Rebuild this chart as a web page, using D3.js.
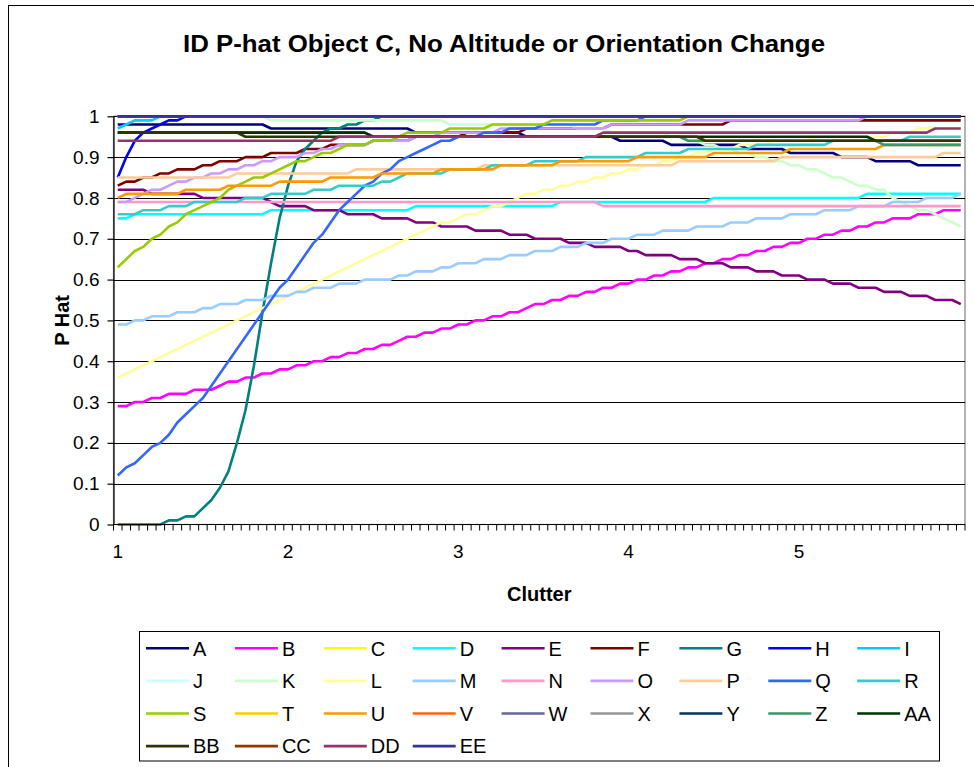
<!DOCTYPE html>
<html><head><meta charset="utf-8">
<script src="https://cdn.jsdelivr.net/npm/d3@7"></script>
<style>body{margin:0;background:#fff}svg{display:block}text{font-family:"Liberation Sans",Arial,sans-serif;fill:#000}</style>
</head><body><svg id="c" width="974" height="767"></svg>
<script>
const categories = [
1,1.05,1.1,1.15,1.2,1.25,1.3,1.35,1.4,1.45,
1.5,1.55,1.6,1.65,1.7,1.75,1.8,1.85,1.9,1.95,
2,2.05,2.1,2.15,2.2,2.25,2.3,2.35,2.4,2.45,
2.5,2.55,2.6,2.65,2.7,2.75,2.8,2.85,2.9,2.95,
3,3.05,3.1,3.15,3.2,3.25,3.3,3.35,3.4,3.45,
3.5,3.55,3.6,3.65,3.7,3.75,3.8,3.85,3.9,3.95,
4,4.05,4.1,4.15,4.2,4.25,4.3,4.35,4.4,4.45,
4.5,4.55,4.6,4.65,4.7,4.75,4.8,4.85,4.9,4.95,
5,5.05,5.1,5.15,5.2,5.25,5.3,5.35,5.4,5.45,
5.5,5.55,5.6,5.65,5.7,5.75,5.8,5.85,5.9,5.95];
const xTickValues = [1,2,3,4,5];
const xTickLabels = ["1","2","3","4","5"];
const yTickValues = [0,0.1,0.2,0.3,0.4,0.5,0.6,0.7,0.8,0.9,1];
const yTickLabels = ["0","0.1","0.2","0.3","0.4","0.5","0.6","0.7","0.8","0.9","1"];

const seriesNames = ["A","B","C","D","E","F","G","H","I","J","K","L","M","N","O","P","Q","R","S","T","U","V","W","X","Y","Z","AA","BB","CC","DD","EE"];
const seriesColors = ["#000080","#FF00FF","#FFFF00","#00FFFF","#800080","#800000","#008080","#0000FF","#00CCFF","#CCFFFF","#CCFFCC","#FFFF99","#99CCFF","#FF99CC","#CC99FF","#FFCC99","#3366FF","#33CCCC","#99CC00","#FFCC00","#FF9900","#FF6600","#666699","#969696","#003366","#339966","#003300","#333300","#993300","#993366","#333399"];

const sA = [
.98,.98,.98,.98,.98,.98,.98,.98,.98,.98,
.98,.98,.98,.98,.98,.98,.98,.98,.97,.97,
.97,.97,.97,.97,.97,.97,.97,.97,.97,.97,
.97,.97,.97,.97,.97,.96,.96,.96,.96,.96,
.96,.96,.96,.96,.96,.96,.96,.96,.95,.95,
.95,.95,.95,.95,.95,.95,.95,.95,.95,.94,
.94,.94,.94,.94,.94,.93,.93,.93,.93,.93,
.93,.93,.93,.93,.92,.92,.92,.92,.92,.91,
.91,.91,.91,.91,.91,.90,.90,.90,.90,.89,
.89,.89,.89,.89,.88,.88,.88,.88,.88,.88];
const sB = [
.29,.29,.30,.30,.31,.31,.32,.32,.32,.33,
.33,.33,.34,.35,.35,.36,.36,.37,.37,.38,
.38,.39,.39,.40,.40,.41,.41,.42,.42,.43,
.43,.44,.44,.45,.46,.46,.47,.47,.48,.48,
.49,.49,.50,.50,.51,.51,.52,.52,.53,.54,
.54,.55,.55,.56,.56,.57,.57,.58,.58,.59,
.59,.60,.60,.61,.61,.62,.62,.63,.63,.64,
.64,.65,.65,.66,.66,.67,.67,.68,.68,.69,
.69,.70,.70,.71,.71,.72,.72,.73,.73,.74,
.74,.75,.75,.75,.76,.76,.76,.77,.77,.77];
const sC = [
1,1,1,1,1,1,1,1,1,1, 1,1,1,1,1,1,1,1,1,1, 1,1,1,1,1,1,1,1,1,1, 1,1,1,1,1,1,1,1,1,1, 1,1,1,1,1,1,1,1,1,1,
1,1,1,1,1,1,1,1,1,1, 1,1,1,1,1,1,1,1,1,1, 1,1,1,1,1,1,1,1,1,1, 1,1,1,1,1,1,1,1,1,1, 1,1,1,1,1,1,1,1,1,1];
const sD = [
.75,.75,.76,.76,.76,.76,.76,.76,.76,.76,
.76,.76,.76,.76,.76,.76,.76,.76,.77,.77,
.77,.77,.77,.77,.77,.77,.77,.77,.77,.77,
.77,.77,.77,.77,.77,.78,.78,.78,.78,.78,
.78,.78,.78,.78,.78,.78,.78,.78,.78,.78,
.78,.78,.79,.79,.79,.79,.79,.79,.79,.79,
.79,.79,.79,.79,.79,.79,.79,.79,.79,.79,
.80,.80,.80,.80,.80,.80,.80,.80,.80,.80,
.80,.80,.80,.80,.80,.80,.80,.80,.81,.81,
.81,.81,.81,.81,.81,.81,.81,.81,.81,.81];
const sE = [
.82,.82,.82,.82,.81,.81,.81,.81,.81,.81,
.80,.80,.80,.80,.80,.80,.80,.80,.79,.78,
.78,.78,.78,.77,.77,.77,.77,.76,.76,.76,
.76,.75,.75,.75,.75,.74,.74,.74,.73,.73,
.73,.73,.72,.72,.72,.72,.71,.71,.71,.70,
.70,.70,.70,.69,.69,.69,.68,.68,.68,.68,
.67,.67,.66,.66,.66,.66,.65,.65,.65,.64,
.64,.64,.63,.63,.63,.62,.62,.62,.61,.61,
.61,.60,.60,.60,.59,.59,.59,.58,.58,.58,
.57,.57,.57,.56,.56,.56,.55,.55,.55,.54];
const sF = [
.83,.84,.84,.85,.85,.86,.86,.87,.87,.87,
.88,.88,.89,.89,.89,.90,.90,.90,.91,.91,
.91,.91,.92,.92,.92,.93,.93,.93,.93,.93,
.94,.94,.94,.94,.94,.95,.95,.95,.95,.95,
.95,.96,.96,.96,.96,.96,.96,.96,.97,.97,
.97,.97,.97,.97,.97,.97,.97,.97,.98,.98,
.98,.98,.98,.98,.98,.98,.98,.98,.98,.98,
.98,.98,.99,.99,.99,.99,.99,.99,.99,.99,
.99,.99,.99,.99,.99,.99,.99,.99,.99,.99,
.99,.99,.99,.99,.99,.99,.99,.99,.99,.99];
const sG = [
0,0,0,0,0,0,.01,.01,.02,.02,
.04,.06,.09,.13,.20,.28,.39,.52,.64,.75,
.83,.89,.92,.94,.96,.97,.97,.98,.98,.99,
.99,1,1,1,1,1,1,1,1,1,
1,1,1,1,1,1,1,1,1,1, 1,1,1,1,1,1,1,1,1,1, 1,1,1,1,1,1,1,1,1,1,
1,1,1,1,1,1,1,1,1,1, 1,1,1,1,1,1,1,1,1,1, 1,1,1,1,1,1,1,1,1,1];
const sH = [
.85,.90,.94,.96,.97,.98,.99,.99,1,1,
1,1,1,1,1,1,1,1,1,1, 1,1,1,1,1,1,1,1,1,1, 1,1,1,1,1,1,1,1,1,1, 1,1,1,1,1,1,1,1,1,1,
1,1,1,1,1,1,1,1,1,1, 1,1,1,1,1,1,1,1,1,1, 1,1,1,1,1,1,1,1,1,1, 1,1,1,1,1,1,1,1,1,1, 1,1,1,1,1,1,1,1,1,1];
const sI = [
.97,.98,.99,.99,.99,1,1,1,1,1,
1,1,1,1,1,1,1,1,1,1, 1,1,1,1,1,1,1,1,1,1, 1,1,1,1,1,1,1,1,1,1, 1,1,1,1,1,1,1,1,1,1,
1,1,1,1,1,1,1,1,1,1, 1,1,1,1,1,1,1,1,1,1, 1,1,1,1,1,1,1,1,1,1, 1,1,1,1,1,1,1,1,1,1, 1,1,1,1,1,1,1,1,1,1];
const sJ = [
1,1,1,1,1,1,1,1,1,1, 1,1,1,1,1,1,1,1,1,1, 1,1,1,1,1,1,1,1,1,1, 1,1,1,1,1,1,1,1,1,1, 1,1,1,1,1,1,1,1,1,1,
1,1,1,1,1,1,1,1,1,1, 1,1,1,1,1,1,1,1,1,1, 1,1,1,1,1,1,1,1,1,1, 1,1,1,1,1,1,1,1,1,1, 1,1,1,1,1,1,1,1,1,1];
const sK = [
1,1,1,1,1,1,1,1,1,1,
1,1,1,1,1,1,1,1,.99,.99,
.99,.99,.99,.99,.99,.99,.99,.99,.99,.99,
.99,.99,.99,.99,.99,.99,.99,.99,.99,.98,
.98,.98,.98,.98,.98,.98,.98,.98,.98,.98,
.98,.98,.98,.98,.97,.97,.97,.97,.96,.96,
.96,.96,.96,.96,.96,.95,.95,.94,.94,.93,
.93,.92,.92,.91,.91,.90,.90,.89,.89,.88,
.88,.87,.87,.86,.85,.85,.84,.83,.83,.82,
.82,.80,.79,.78,.77,.77,.76,.75,.74,.73];
const sL = [
.36,.37,.38,.39,.40,.41,.42,.43,.44,.45,
.46,.47,.48,.49,.50,.51,.52,.53,.54,.55,
.56,.57,.58,.59,.60,.61,.62,.63,.64,.65,
.66,.67,.68,.69,.70,.71,.72,.73,.74,.74,
.75,.76,.76,.77,.78,.78,.79,.80,.81,.81,
.82,.82,.83,.83,.84,.84,.85,.85,.86,.86,
.87,.87,.88,.88,.89,.89,.90,.90,.91,.91,
.92,.92,.92,.93,.93,.93,.93,.94,.94,.94,
.94,.94,.95,.95,.95,.95,.95,.95,.95,.95,
.95,.96,.96,.96,.97,.97,.97,.97,.97,.97];
const sM = [
.49,.49,.50,.50,.51,.51,.51,.52,.52,.52,
.53,.53,.54,.54,.54,.55,.55,.55,.56,.56,
.56,.57,.57,.58,.58,.58,.59,.59,.59,.60,
.60,.60,.60,.61,.61,.62,.62,.62,.63,.63,
.64,.64,.64,.65,.65,.65,.66,.66,.66,.67,
.67,.67,.68,.68,.68,.69,.69,.69,.70,.70,
.70,.71,.71,.71,.72,.72,.72,.72,.73,.73,
.73,.73,.74,.74,.74,.75,.75,.75,.75,.76,
.76,.76,.76,.77,.77,.77,.77,.78,.78,.78,
.78,.79,.79,.79,.79,.80,.80,.80,.80,.81];
const sN = [
.79,.79,.79,.79,.79,.79,.79,.79,.79,.79,
.79,.79,.79,.79,.79,.79,.79,.79,.79,.79,
.79,.79,.79,.79,.79,.79,.79,.79,.79,.79,
.79,.79,.79,.79,.79,.79,.79,.79,.79,.79,
.79,.79,.79,.79,.79,.79,.79,.79,.79,.79,
.79,.79,.79,.79,.79,.79,.79,.78,.78,.78,
.78,.78,.78,.78,.78,.78,.78,.78,.78,.78,
.78,.78,.78,.78,.78,.78,.78,.78,.78,.78,
.78,.78,.78,.78,.78,.78,.78,.78,.78,.78,
.78,.78,.78,.78,.78,.78,.78,.78,.78,.78];
const sO = [
.79,.79,.80,.81,.82,.82,.83,.84,.84,.85,
.85,.86,.86,.87,.87,.88,.88,.89,.89,.90,
.90,.90,.91,.91,.92,.92,.93,.93,.93,.93,
.94,.94,.94,.94,.94,.95,.95,.95,.96,.96,
.96,.96,.96,.96,.96,.97,.97,.97,.97,.97,
.97,.97,.97,.97,.97,.97,.97,.97,.98,.98,
.98,.98,.98,.98,.98,.98,.98,.99,.99,.99,
.99,.99,.99,.99,.99,.99,.99,.99,.99,.99,
.99,.99,.99,.99,.99,.99,.99,.99,1,1,
1,1,1,1,1,1,1,1,1,1];
const sP = [
.85,.85,.85,.85,.85,.85,.85,.85,.85,.85,
.85,.85,.85,.85,.86,.86,.86,.86,.86,.86,
.86,.86,.86,.86,.86,.86,.86,.86,.87,.87,
.87,.87,.87,.87,.87,.87,.87,.87,.87,.87,
.87,.87,.87,.88,.88,.88,.88,.88,.88,.88,
.88,.88,.88,.88,.88,.88,.88,.88,.88,.88,
.88,.88,.88,.88,.88,.88,.89,.89,.89,.89,
.89,.89,.89,.89,.89,.89,.89,.89,.90,.90,
.90,.90,.90,.90,.90,.90,.90,.90,.90,.90,
.90,.90,.90,.90,.90,.90,.90,.91,.91,.91];
const sQ = [
.12,.14,.15,.17,.19,.20,.22,.25,.27,.29,
.31,.34,.37,.40,.43,.46,.49,.52,.55,.58,
.60,.63,.66,.69,.71,.74,.77,.79,.81,.83,
.84,.86,.87,.89,.90,.91,.92,.93,.94,.94,
.95,.95,.95,.96,.96,.96,.97,.97,.97,.97,
.98,.98,.98,.98,.98,.98,.98,.99,.99,.99,
.99,.99,1,1,1,1,1,1,1,1,
1,1,1,1,1,1,1,1,1,1, 1,1,1,1,1,1,1,1,1,1, 1,1,1,1,1,1,1,1,1,1];
const sR = [
.76,.76,.76,.77,.77,.77,.78,.78,.78,.79,
.79,.79,.79,.79,.79,.80,.80,.80,.81,.81,
.81,.81,.81,.82,.82,.82,.83,.83,.83,.83,
.83,.84,.84,.85,.86,.86,.86,.86,.86,.87,
.87,.87,.87,.87,.88,.88,.88,.88,.88,.89,
.89,.89,.89,.89,.89,.90,.90,.90,.90,.90,
.90,.90,.91,.91,.91,.91,.91,.92,.92,.92,
.92,.92,.92,.92,.92,.93,.93,.93,.93,.93,
.93,.93,.93,.93,.94,.94,.94,.94,.94,.94,
.94,.94,.94,.95,.95,.95,.95,.95,.95,.95];
const sS = [
.63,.65,.67,.68,.70,.71,.73,.74,.76,.77,
.78,.79,.80,.82,.83,.84,.85,.85,.86,.87,
.88,.89,.89,.90,.91,.91,.92,.93,.93,.93,
.94,.94,.94,.95,.96,.96,.96,.96,.96,.97,
.97,.97,.97,.97,.98,.98,.98,.98,.98,.98,
.98,.99,.99,.99,.99,.99,.99,.99,.99,.99,
.99,.99,.99,.99,.99,.99,.99,1,1,1,
1,1,1,1,1,1,1,1,1,1, 1,1,1,1,1,1,1,1,1,1, 1,1,1,1,1,1,1,1,1,1];
const sT = [
1,1,1,1,1,1,1,1,1,1, 1,1,1,1,1,1,1,1,1,1, 1,1,1,1,1,1,1,1,1,1, 1,1,1,1,1,1,1,1,1,1, 1,1,1,1,1,1,1,1,1,1,
1,1,1,1,1,1,1,1,1,1, 1,1,1,1,1,1,1,1,1,1, 1,1,1,1,1,1,1,1,1,1, 1,1,1,1,1,1,1,1,1,1, 1,1,1,1,1,1,1,1,1,1];
const sU = [
.80,.81,.81,.81,.81,.81,.81,.81,.82,.82,
.82,.82,.82,.83,.83,.83,.83,.83,.83,.84,
.84,.84,.84,.84,.84,.85,.85,.85,.85,.85,
.85,.86,.86,.86,.86,.86,.86,.86,.87,.87,
.87,.87,.87,.87,.87,.88,.88,.88,.88,.88,
.88,.88,.89,.89,.89,.89,.89,.89,.89,.89,
.89,.90,.90,.90,.90,.90,.90,.90,.90,.90,
.91,.91,.91,.91,.91,.91,.91,.91,.91,.92,
.92,.92,.92,.92,.92,.92,.92,.92,.92,.92,
.93,.93,.93,.93,.93,.93,.93,.93,.93,.93];
const sV = [
1,1,1,1,1,1,1,1,1,1, 1,1,1,1,1,1,1,1,1,1, 1,1,1,1,1,1,1,1,1,1, 1,1,1,1,1,1,1,1,1,1, 1,1,1,1,1,1,1,1,1,1,
1,1,1,1,1,1,1,1,1,1, 1,1,1,1,1,1,1,1,1,1, 1,1,1,1,1,1,1,1,1,1, 1,1,1,1,1,1,1,1,1,1, 1,1,1,1,1,1,1,1,1,1];
const sW = [
1,1,1,1,1,1,1,1,1,1, 1,1,1,1,1,1,1,1,1,1, 1,1,1,1,1,1,1,1,1,1, 1,1,1,1,1,1,1,1,1,1, 1,1,1,1,1,1,1,1,1,1,
1,1,1,1,1,1,1,1,1,1, 1,1,1,1,1,1,1,1,1,1, 1,1,1,1,1,1,1,1,1,1, 1,1,1,1,1,1,1,1,1,1, 1,1,1,1,1,1,1,1,1,1];
const sX = [
1,1,1,1,1,1,1,1,1,1, 1,1,1,1,1,1,1,1,1,1, 1,1,1,1,1,1,1,1,1,1, 1,1,1,1,1,1,1,1,1,1, 1,1,1,1,1,1,1,1,1,1,
1,1,1,1,1,1,1,1,1,1, 1,1,1,1,1,1,1,1,1,1, 1,1,1,1,1,1,1,1,1,1, 1,1,1,1,1,1,1,1,1,1, 1,1,1,1,1,1,1,1,1,1];
const sY = [
1,1,1,1,1,1,1,1,1,1, 1,1,1,1,1,1,1,1,1,1, 1,1,1,1,1,1,1,1,1,1, 1,1,1,1,1,1,1,1,1,1, 1,1,1,1,1,1,1,1,1,1,
1,1,1,1,1,1,1,1,1,1, 1,1,1,1,1,1,1,1,1,1, 1,1,1,1,1,1,1,1,1,1, 1,1,1,1,1,1,1,1,1,1, 1,1,1,1,1,1,1,1,1,1];
const sZ = [
.96,.96,.96,.96,.96,.96,.96,.96,.96,.96,
.96,.96,.96,.96,.96,.96,.96,.96,.96,.96,
.96,.96,.96,.96,.96,.96,.96,.96,.96,.96,
.95,.95,.95,.95,.95,.95,.95,.95,.95,.95,
.95,.95,.95,.95,.95,.95,.95,.95,.95,.95,
.95,.95,.95,.95,.95,.95,.95,.95,.95,.95,
.95,.95,.95,.95,.95,.95,.95,.94,.94,.94,
.94,.94,.94,.94,.94,.94,.94,.94,.94,.94,
.94,.94,.94,.94,.94,.94,.94,.94,.94,.94,
.93,.93,.93,.93,.93,.93,.93,.93,.93,.93];
const sAA = [
.96,.96,.96,.96,.96,.96,.96,.96,.96,.96,
.96,.96,.96,.96,.96,.96,.96,.96,.96,.96,
.96,.96,.96,.96,.96,.96,.96,.96,.96,.96,
.95,.95,.95,.95,.95,.95,.95,.95,.95,.95,
.95,.95,.95,.95,.95,.95,.95,.95,.95,.95,
.95,.95,.95,.95,.95,.95,.95,.95,.95,.95,
.95,.95,.95,.95,.95,.95,.95,.95,.95,.95,
.95,.95,.95,.95,.95,.95,.95,.95,.95,.95,
.95,.95,.95,.95,.95,.95,.95,.95,.95,.94,
.94,.94,.94,.94,.94,.94,.94,.94,.94,.94];
const sBB = [
.96,.96,.96,.96,.96,.96,.96,.96,.96,.96,
.96,.96,.96,.96,.96,.95,.95,.95,.95,.95,
.95,.95,.95,.95,.95,.95,.95,.95,.95,.95,
.95,.95,.95,.95,.95,.95,.95,.95,.95,.95,
.95,.95,.95,.95,.95,.95,.95,.95,.95,.95,
.95,.95,.95,.95,.95,.95,.95,.95,.95,.95,
.95,.95,.95,.95,.95,.95,.95,.95,.95,.94,
.94,.94,.94,.94,.94,.94,.94,.94,.94,.94,
.94,.94,.94,.94,.94,.94,.94,.94,.94,.94,
.94,.94,.94,.94,.94,.94,.94,.94,.94,.94];
const sCC = [
1,1,1,1,1,1,1,1,1,1, 1,1,1,1,1,1,1,1,1,1, 1,1,1,1,1,1,1,1,1,1, 1,1,1,1,1,1,1,1,1,1, 1,1,1,1,1,1,1,1,1,1,
1,1,1,1,1,1,1,1,1,1, 1,1,1,1,1,1,1,1,1,1, 1,1,1,1,1,1,1,1,1,1, 1,1,1,1,1,1,1,1,1,1, 1,1,1,1,1,1,1,1,1,1];
const sDD = [
.94,.94,.94,.94,.94,.94,.94,.94,.94,.94,
.94,.94,.94,.94,.94,.94,.94,.94,.94,.94,
.94,.94,.94,.94,.94,.94,.95,.95,.95,.95,
.95,.95,.95,.95,.95,.95,.95,.95,.95,.95,
.95,.95,.95,.95,.95,.95,.95,.95,.95,.95,
.95,.95,.95,.95,.95,.95,.95,.96,.96,.96,
.96,.96,.96,.96,.96,.96,.96,.96,.96,.96,
.96,.96,.96,.96,.96,.96,.96,.96,.96,.96,
.96,.96,.96,.96,.96,.96,.96,.96,.96,.96,
.96,.96,.96,.96,.96,.96,.97,.97,.97,.97];
const sEE = [
1,1,1,1,1,1,1,1,1,1, 1,1,1,1,1,1,1,1,1,1, 1,1,1,1,1,1,1,1,1,1, 1,1,1,1,1,1,1,1,1,1, 1,1,1,1,1,1,1,1,1,1,
1,1,1,1,1,1,1,1,1,1, 1,1,1,1,1,1,1,1,1,1, 1,1,1,1,1,1,1,1,1,1, 1,1,1,1,1,1,1,1,1,1, 1,1,1,1,1,1,1,1,1,1];

const seriesValues = [sA,sB,sC,sD,sE,sF,sG,sH,sI,sJ,sK,sL,sM,sN,sO,sP,sQ,sR,sS,sT,sU,sV,sW,sX,sY,sZ,sAA,sBB,sCC,sDD,sEE];

const svg = d3.select("#c");
const L = 113.5, R = 965, T = 116.3, B = 524.5;

// outer chart border
svg.append("rect").attr("x",8.5).attr("y",5.5).attr("width",1000).attr("height",900)
  .attr("fill","#fff").attr("stroke","#000").attr("stroke-width",1);

const x = d3.scaleBand().domain(categories).range([L,R]).paddingInner(0).paddingOuter(0);
const bw = x.bandwidth();
const y = d3.scaleLinear().domain([0,1]).range([B,T]);

// plot area
svg.append("rect").attr("x",L).attr("y",T).attr("width",R-L).attr("height",B-T)
  .attr("fill","#fff").attr("stroke","#808080").attr("stroke-width",1.2);

// gridlines
svg.append("g").selectAll("line").data(yTickValues.filter(v=>v>0)).join("line")
  .attr("x1",L).attr("x2",R).attr("y1",d=>Math.round(y(d))+0.5).attr("y2",d=>Math.round(y(d))+0.5)
  .attr("stroke","#000").attr("stroke-width",1);

// series lines
const line = d3.line().x((d,i)=>x(categories[i])+bw/2).y(d=>y(d));
svg.append("g").selectAll("path").data(seriesValues).join("path")
  .attr("d",d=>line(d)).attr("fill","none")
  .attr("stroke",(d,i)=>seriesColors[i]).attr("stroke-width",2.6)
  .attr("stroke-linejoin","round");

// y axis
const yAxis = d3.axisLeft(y).tickValues(yTickValues).tickFormat((d,i)=>yTickLabels[i])
  .tickSize(6).tickSizeOuter(0).tickPadding(8);
const gy = svg.append("g").attr("transform",`translate(${L},0)`).call(yAxis);
gy.selectAll("text").attr("font-size",19).attr("font-family","Liberation Sans, Arial, sans-serif").attr("fill","#000");
gy.selectAll("line,path").attr("stroke","#000").attr("stroke-width",1.2);

// x axis line + boundary ticks
const gx = svg.append("g");
gx.append("line").attr("x1",L).attr("x2",R).attr("y1",B).attr("y2",B).attr("stroke","#000").attr("stroke-width",1.2);
const bounds = categories.map(c=>x(c)).concat([R]);
gx.selectAll("line.t").data(bounds).join("line").attr("class","t")
  .attr("x1",d=>d).attr("x2",d=>d).attr("y1",B).attr("y2",B+6).attr("stroke","#000").attr("stroke-width",1);
gx.selectAll("text").data(xTickValues).join("text")
  .attr("x",d=>x(d)+bw/2).attr("y",558).attr("text-anchor","middle")
  .attr("font-size",19).text((d,i)=>xTickLabels[i]);

// titles
svg.append("text").attr("x",504).attr("y",52).attr("text-anchor","middle")
  .attr("font-size",24).attr("font-weight","bold")
  .attr("textLength",642).attr("lengthAdjust","spacingAndGlyphs")
  .text("ID P-hat Object C, No Altitude or Orientation Change");
svg.append("text").attr("x",(L+R)/2).attr("y",601).attr("text-anchor","middle")
  .attr("font-size",20).attr("font-weight","bold").text("Clutter");
svg.append("text").attr("transform",`translate(69,${(T+B)/2}) rotate(-90)`).attr("text-anchor","middle")
  .attr("font-size",20).attr("font-weight","bold").text("P Hat");

// legend
const lg = svg.append("g");
lg.append("rect").attr("x",139.5).attr("y",631.5).attr("width",800).attr("height",129.5)
  .attr("fill","#fff").attr("stroke","#000").attr("stroke-width",1);
const colW = 88.9, rowH = 32.6;
const items = lg.selectAll("g.it").data(seriesNames).join("g").attr("class","it")
  .attr("transform",(d,i)=>`translate(${146 + (i%9)*colW},${648.3 + Math.floor(i/9)*rowH})`);
items.append("line").attr("x1",0).attr("x2",43).attr("y1",0).attr("y2",0)
  .attr("stroke",(d,i)=>seriesColors[i]).attr("stroke-width",2.6);
items.append("text").attr("x",47).attr("y",0).attr("dy","0.36em").attr("font-size",20).text(d=>d);
</script></body></html>
